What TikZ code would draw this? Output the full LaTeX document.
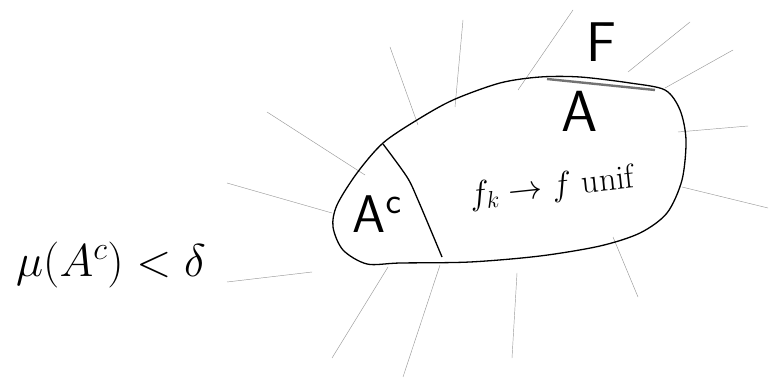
\RequirePackage{fix-cm}
\documentclass[tikz,border=0pt]{standalone}
\usepackage{amsmath, amssymb}
\usepackage{tikz}

\begin{document}
\begin{tikzpicture}[x=1pt, y=-1pt,
		boundary/.style={line width=1.3pt, black},
		ray/.style={line width=0.45pt, black!40},
		rim/.style={line width=2.4pt, black!55},
		setlabel/.style={inner sep=0pt, font=\sffamily\fontsize{58}{62}\selectfont},
		handtext/.style={inner sep=0pt}
		]
		\useasboundingbox (0,0) rectangle (773,379);
		
		% ----- Rays around the set -----
		\foreach \xa/\ya/\xb/\yb in {267/112/365/175, 227/183/332/213, 227/282/312/272,
			332/358/388/267, 403/377/440/265, 512/358/517/273, 638/297/613/237,
			768/208/682/187, 748/126/678/132, 733/50/665/88, 690/22/628/72,
			573/10/518/90, 463/20/455/107, 390/47/418/125}
		\draw[ray] (\xa,\ya) -- (\xb,\yb);
		
		% ----- Set F -----
		\draw[boundary] plot[smooth cycle] coordinates {
			(383,143) (417,120) (453,100) (500,83) (540,77) (580,77) (630,83)
			(665,90) (680,110) (686,140) (682,180) (667,213) (640,233) (600,246)
			(540,256) (470,262) (400,263) (367,264) (343,250) (333,227) (337,205) (357,173)};
		
		% Split into A^c and A
		\draw[boundary] plot[smooth] coordinates {(383,144) (407,177) (418,200) (442,257)};
		\draw[rim] (547,79) -- (655,90);
		
		% ----- Labels -----
		\node[setlabel, font=\sffamily\fontsize{56}{60}\selectfont] (F) at (601,42) {F};
		\node[setlabel] (A) at (580,111) {A};
		\node[handtext, font=\fontsize{53}{56}\selectfont] (Ac) at (377,214) {$\mathsf{A}^{\mathsf{c}}$};
		\node[handtext, rotate=6, font=\fontsize{34}{38}\selectfont] (conv) at (552,188) {$f_k \to f$ unif};
		\node[handtext, font=\fontsize{46}{50}\selectfont] (mu) at (111,265) {$\mu(A^c)<\delta$};
		
	\end{tikzpicture}
\end{document}
